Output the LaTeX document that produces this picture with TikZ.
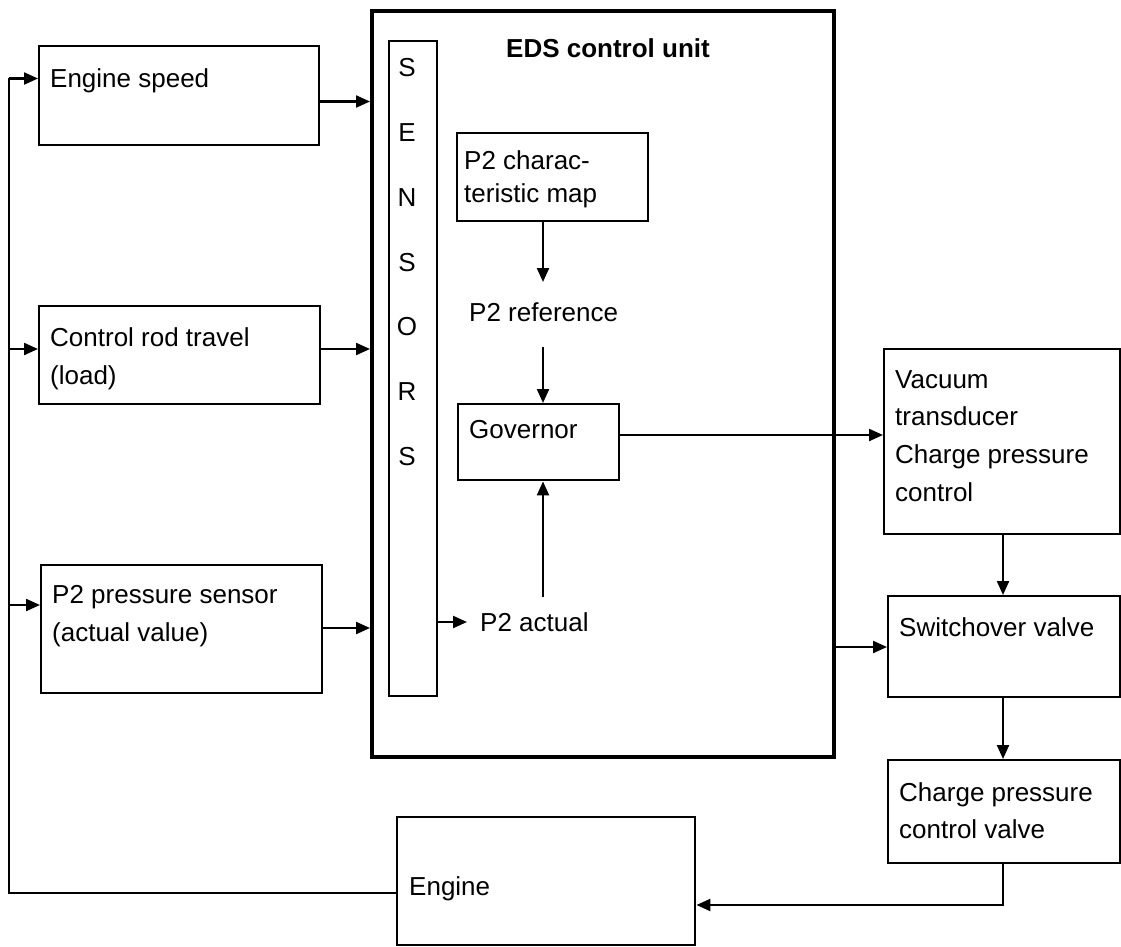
\documentclass[tikz,border=0pt]{standalone}
\usepackage{fontspec}
\setmainfont{Liberation Sans}
\usetikzlibrary{arrows.meta}
\begin{document}
\begin{tikzpicture}[x=1pt,y=-1pt,
  box/.style={draw, line width=2.4pt, inner sep=0pt, anchor=north west},
  lbl/.style={inner sep=0pt, anchor=north west, align=left, font=\fontsize{26}{38}\selectfont},
  conn/.style={line width=2.2pt, -{Triangle[length=14pt,width=12pt]}},
  plain/.style={line width=2.2pt}]
\useasboundingbox (0,0) rectangle (1121,947);

% boxes
\node[box, minimum width=280pt, minimum height=99pt] (es) at (38,45) {};
\node[box, minimum width=281pt, minimum height=98pt] (cr) at (38,305) {};
\node[box, minimum width=281pt, minimum height=128pt] (ps) at (40,564) {};
\node[box, line width=4pt, minimum width=462pt, minimum height=746pt] (eds) at (370,9) {};
\node[box, minimum width=48pt, minimum height=655pt] (sens) at (388,40) {};
\node[box, minimum width=191pt, minimum height=88pt] (map) at (456,132) {};
\node[box, minimum width=161pt, minimum height=76pt] (gov) at (457,403) {};
\node[box, minimum width=236pt, minimum height=185pt] (vac) at (883,348) {};
\node[box, minimum width=232pt, minimum height=101pt] (sw) at (887,595) {};
\node[box, minimum width=232pt, minimum height=103pt] (cpcv) at (887,759) {};
\node[box, minimum width=298pt, minimum height=128pt] (eng) at (396,816) {};

% labels
\node[lbl] (les) at (50,68.5) {Engine speed};
\node[lbl] (lcr) at (50,327) {Control rod travel\\(load)};
\node[lbl] (lps) at (52,585) {P2 pressure sensor\\(actual value)};
\node[inner sep=0pt, font=\fontsize{26}{38}\selectfont\bfseries] (title) at (608,48) {EDS control unit};
\node[inner sep=0pt, anchor=north, align=center, font=\fontsize{26}{64.8}\selectfont] (lsens) at (407,58.4) {S\\E\\N\\S\\O\\R\\S};
\node[lbl, font=\fontsize{26}{33}\selectfont] (lmap) at (464,150) {P2 charac-\\teristic map};
\node[lbl] (ref) at (469,302) {P2 reference};
\node[lbl] (lgov) at (469,420) {Governor};
\node[lbl] (act) at (480,612) {P2 actual};
\node[lbl, font=\fontsize{26}{37.8}\selectfont] (lvac) at (895,370) {Vacuum\\transducer\\Charge pressure\\control};
\node[lbl] (lsw) at (899,617) {Switchover valve};
\node[lbl, font=\fontsize{26}{37}\selectfont] (lcp) at (899,782) {Charge pressure\\control valve};
\node[lbl] (leng) at (409,876) {Engine};

% helper coordinates
\coordinate (fbB) at (9,893);
\coordinate (fbT) at (9,78.5);
\coordinate (fbM) at (9,349);
\coordinate (fbP) at (9,605);
\coordinate (y1) at (0,101.5);
\coordinate (y2) at (0,349);
\coordinate (y3) at (0,628);
\coordinate (yA) at (0,622);
\coordinate (xC) at (543,0);
\coordinate (yG) at (0,435);
\coordinate (ySw) at (0,647);
\coordinate (xR) at (1003,0);
\coordinate (yEin) at (0,905);

% feedback loop
\draw[plain] (eng.west |- fbB) -- (fbB) -- (fbT);
\draw[conn] (fbT) -- (es.west |- fbT);
\draw[conn] (fbM) -- (cr.west |- fbM);
\draw[conn] (fbP) -- (ps.west |- fbP);

% inputs to EDS
\draw[conn] (es.east |- y1) -- (eds.west |- y1);
\draw[conn] (cr.east |- y2) -- (eds.west |- y2);
\draw[conn] (ps.east |- y3) -- (eds.west |- y3);

% inside EDS
\draw[conn, shorten >=13pt] (sens.east |- yA) -- (act.west |- yA);
\draw[conn, shorten >=20pt] (map.south -| xC) -- (ref.north -| xC);
\draw[conn, shorten <=26pt] (ref.south -| xC) -- (gov.north -| xC);
\draw[conn, shorten <=15pt] (act.north -| xC) -- (gov.south -| xC);

% outputs
\draw[conn] (gov.east |- yG) -- (vac.west |- yG);
\draw[conn] (eds.east |- ySw) -- (sw.west |- ySw);
\draw[conn] (vac.south -| xR) -- (sw.north -| xR);
\draw[conn] (sw.south -| xR) -- (cpcv.north -| xR);
\draw[conn] (cpcv.south -| xR) -- (xR |- yEin) -- (eng.east |- yEin);
\end{tikzpicture}
\end{document}
